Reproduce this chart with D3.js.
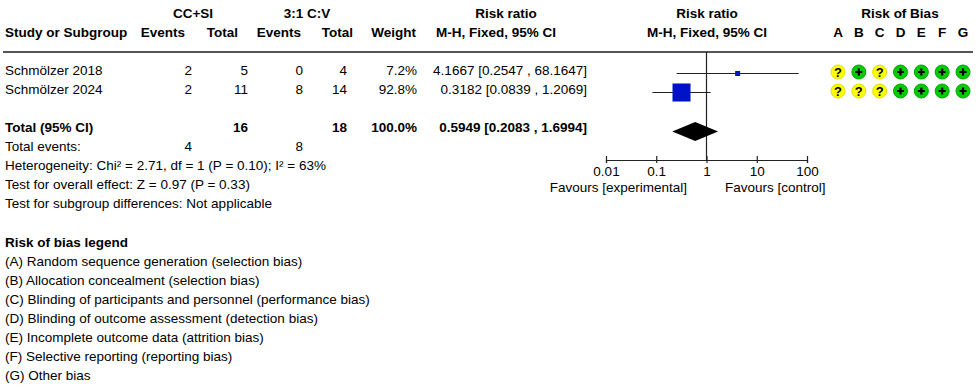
<!DOCTYPE html>
<html>
<head>
  <meta charset="utf-8">
  <title>Forest plot</title>
  <script src="https://cdn.jsdelivr.net/npm/d3@7"></script>
  <style>
    body { margin: 0; background: #fff; }
    text { font-family: "Liberation Sans", Arial, sans-serif; font-size: 13.5px; fill: #000; }
    .b { font-weight: bold; }
  </style>
</head>
<body>
  <script>
    const width = 980;
    const height = 392;

    const studies = ["Schmölzer 2018", "Schmölzer 2024"];
    const expEvents = [2, 2];
    const expTotal = [5, 11];
    const ctlEvents = [0, 8];
    const ctlTotal = [4, 14];
    const weights = [7.2, 92.8];
    const rr = [4.1667, 0.3182];
    const rrLow = [0.2547, 0.0839];
    const rrHigh = [68.1647, 1.2069];

    const pooled = [0.5949, 0.2083, 1.6994];
    const totals = [16, 18];
    const totalEvents = [4, 8];

    const biasLetters = ["A", "B", "C", "D", "E", "F", "G"];
    const bias = [
      ["?", "+", "?", "+", "+", "+", "+"],
      ["?", "?", "?", "+", "+", "+", "+"]
    ];
    const axisTicks = [0.01, 0.1, 1, 10, 100];

    const notes = [
      "Heterogeneity: Chi\u00b2 = 2.71, df = 1 (P = 0.10); I\u00b2 = 63%",
      "Test for overall effect: Z = 0.97 (P = 0.33)",
      "Test for subgroup differences: Not applicable"
    ];
    const legendItems = [
      "(A) Random sequence generation (selection bias)",
      "(B) Allocation concealment (selection bias)",
      "(C) Blinding of participants and personnel (performance bias)",
      "(D) Blinding of outcome assessment (detection bias)",
      "(E) Incomplete outcome data (attrition bias)",
      "(F) Selective reporting (reporting bias)",
      "(G) Other bias"
    ];

    const svg = d3.select("body").append("svg").attr("width", width).attr("height", height);

    const x = d3.scaleLog().domain([0.01, 100]).range([606, 807]);
    const rowY = d3.scalePoint().domain(studies).range([73.5, 92.5]);
    const boxSize = d3.scaleSqrt().domain([0, 100]).range([0, 18.7]);
    const biasX = d3.scalePoint().domain(biasLetters).range([838, 963]);
    const fmt = d3.format(".4f");

    function txt(xp, yp, s, anchor, bold) {
      return svg.append("text").attr("x", xp).attr("y", yp)
        .attr("text-anchor", anchor || "start")
        .attr("class", bold ? "b" : null)
        .text(s);
    }

    // headers
    txt(193, 18, "CC+SI", "middle", true);
    txt(307, 18, "3:1 C:V", "middle", true);
    txt(506, 18, "Risk ratio", "middle", true);
    txt(707, 18, "Risk ratio", "middle", true);
    txt(900, 18, "Risk of Bias", "middle", true);
    txt(5, 37, "Study or Subgroup", "start", true);
    txt(185, 37, "Events", "end", true);
    txt(238, 37, "Total", "end", true);
    txt(301, 37, "Events", "end", true);
    txt(353, 37, "Total", "end", true);
    txt(416, 37, "Weight", "end", true);
    txt(496, 37, "M-H, Fixed, 95% CI", "middle", true);
    txt(707, 37, "M-H, Fixed, 95% CI", "middle", true);
    biasLetters.forEach(l => txt(biasX(l), 37, l, "middle", true));

    svg.append("line").attr("x1", 3).attr("x2", 973).attr("y1", 52).attr("y2", 52)
      .attr("stroke", "#555").attr("stroke-width", 2);

    // study rows
    studies.forEach((s, i) => {
      const yb = rowY(s) + 1.5;
      txt(5, yb, s);
      txt(192, yb, expEvents[i], "end");
      txt(248, yb, expTotal[i], "end");
      txt(303, yb, ctlEvents[i], "end");
      txt(347, yb, ctlTotal[i], "end");
      txt(417, yb, weights[i].toFixed(1) + "%", "end");
      txt(587, yb, `${fmt(rr[i])} [${fmt(rrLow[i])} , ${fmt(rrHigh[i])}]`, "end");
    });

    // total rows
    txt(5, 132, "Total (95% CI)", "start", true);
    txt(248, 132, totals[0], "end", true);
    txt(347, 132, totals[1], "end", true);
    txt(417, 132, "100.0%", "end", true);
    txt(587, 132, `${fmt(pooled[0])} [${fmt(pooled[1])} , ${fmt(pooled[2])}]`, "end", true);
    txt(5, 151, "Total events:");
    txt(192, 151, totalEvents[0], "end");
    txt(303, 151, totalEvents[1], "end");
    notes.forEach((n, i) => txt(5, 170 + i * 19, n));

    txt(5, 247, "Risk of bias legend", "start", true);
    legendItems.forEach((n, i) => txt(5, 266 + i * 19, n));

    // forest plot
    svg.append("line").attr("x1", x(1)).attr("x2", x(1)).attr("y1", 52).attr("y2", 160)
      .attr("stroke", "#222").attr("stroke-width", 1.2);

    const gAxis = svg.append("g").attr("transform", "translate(0,160)")
      .call(d3.axisBottom(x).tickValues(axisTicks).tickSizeOuter(0).tickSize(3)
        .tickFormat(d => String(d)));
    gAxis.select(".domain").attr("stroke", "#222").attr("stroke-width", 1.2);
    gAxis.selectAll(".tick line").attr("y1", -4).attr("y2", 3).attr("stroke", "#222").attr("stroke-width", 1.2);
    gAxis.selectAll(".tick text").attr("y", 16).attr("dy", 0)
      .style("font-family", "'Liberation Sans', Arial, sans-serif").style("font-size", "13.5px").attr("fill", "#000");

    txt(687, 192, "Favours [experimental]", "end");
    txt(725, 192, "Favours [control]", "start");

    const rows = svg.append("g");
    studies.forEach((s, i) => {
      const cy = rowY(s);
      rows.append("line").attr("x1", x(rrLow[i])).attr("x2", x(rrHigh[i]))
        .attr("y1", cy).attr("y2", cy).attr("stroke", "#222").attr("stroke-width", 1.2);
      const sz = boxSize(weights[i]);
      rows.append("rect").attr("x", x(rr[i]) - sz / 2).attr("y", cy - sz / 2)
        .attr("width", sz).attr("height", sz).attr("fill", "#0012c8");
    });

    const dy = 131.5;
    svg.append("path")
      .attr("d", `M${x(pooled[1])},${dy} L${x(pooled[0])},${dy - 9.5} L${x(pooled[2])},${dy} L${x(pooled[0])},${dy + 9.5} Z`)
      .attr("fill", "#000");

    // risk of bias
    bias.forEach((r, i) => {
      const cy = rowY(studies[i]) - 1.5;
      r.forEach((v, j) => {
        const cx = biasX(biasLetters[j]);
        svg.append("circle").attr("cx", cx).attr("cy", cy).attr("r", 7)
          .attr("fill", v === "+" ? "#00cc00" : "#ffff00")
          .attr("stroke", v === "+" ? "#00a800" : "#e0e000").attr("stroke-width", 1);
        if (v === "+") {
          svg.append("path")
            .attr("d", `M${cx - 3.5},${cy} H${cx + 3.5} M${cx},${cy - 3.5} V${cy + 3.5}`)
            .attr("stroke", "#000").attr("stroke-width", 2.2);
        } else {
          svg.append("text").attr("x", cx).attr("y", cy + 4.5).attr("text-anchor", "middle")
            .attr("class", "b").style("font-size", "13px").text("?");
        }
      });
    });
  </script>
</body>
</html>
